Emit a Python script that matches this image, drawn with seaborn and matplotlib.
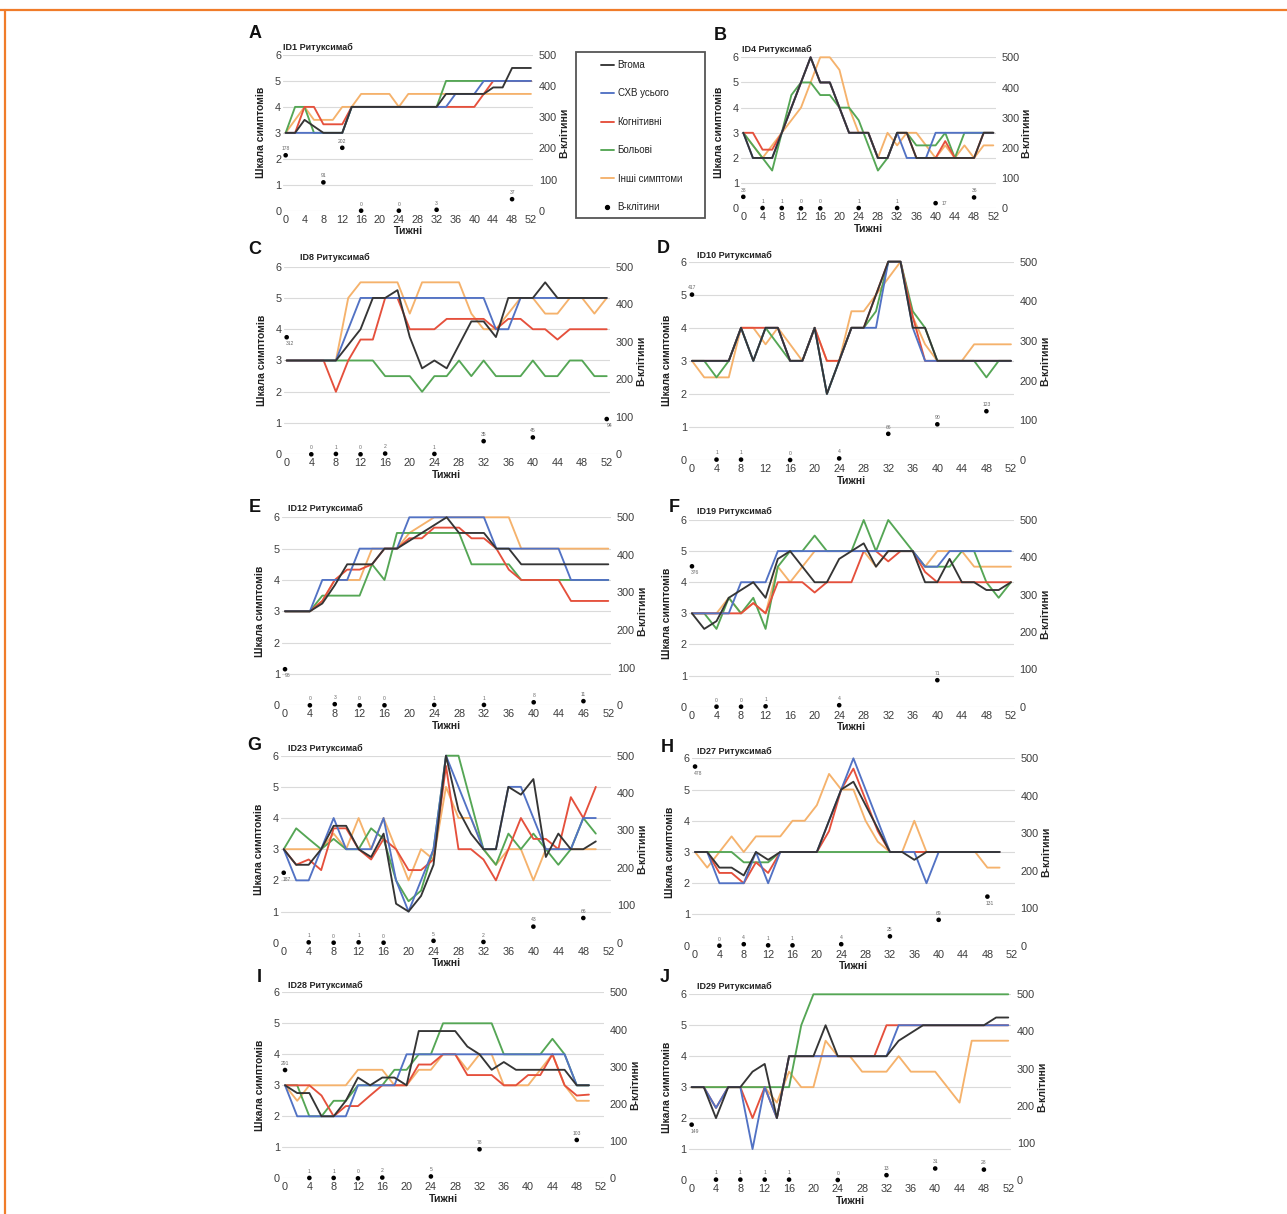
import matplotlib
matplotlib.use("Agg")
import matplotlib.pyplot as plt
import seaborn as sns
from matplotlib.lines import Line2D
from matplotlib.patches import Rectangle

sns.set_theme(style="white")
plt.rcParams['font.family'] = ['Liberation Sans', 'DejaVu Sans']

# ---------------------------------------------------------------- data
SERIES = ["Втома", "СХВ усього", "Когнітивні", "Больові", "Інші симптоми"]
BCELL_LABEL = "В-клітини"
TREATMENT = "Ритуксимаб"

weeks_to_52 = list(range(0, 53, 2))
weeks_to_50 = list(range(0, 51, 2))
default_ticks = [str(w) for w in range(0, 53, 4)]
id12_ticks = ['0', '4', '8', '12', '16', '20', '24', '28', '32', '36', '40', '44', '46', '52']

# ID1
id1_fatigue = [3, 3, 3.5, 3.25, 3, 3, 3, 4, 4, 4, 4, 4, 4, 4, 4, 4, 4, 4.5, 4.5, 4.5, 4.5, 4.5, 4.75, 4.75, 5.5, 5.5, 5.5]
id1_total = [3, 3, 3, 3, 3, 3, 3, 4, 4, 4, 4, 4, 4, 4, 4, 4, 4, 4, 4.5, 4.5, 4.5, 5, 5, 5, 5, 5, 5]
id1_cognitive = [3, 3, 4, 4, 3.33, 3.33, 3.33, 4, 4, 4, 4, 4, 4, 4, 4, 4, 4, 4, 4, 4, 4, 4.5, 5, 5, 5, 5, 5]
id1_pain = [3, 4, 4, 3, 3, 3, 3, 4, 4, 4, 4, 4, 4, 4, 4, 4, 4, 5, 5, 5, 5, 5, 5, 5, 5, 5, 5]
id1_other = [3, 3.5, 4, 3.5, 3.5, 3.5, 4, 4, 4.5, 4.5, 4.5, 4.5, 4, 4.5, 4.5, 4.5, 4.5, 4.5, 4.5, 4.5, 4.5, 4.5, 4.5, 4.5, 4.5, 4.5, 4.5]
id1_bcell_weeks = [0, 8, 12, 16, 24, 32, 48]
id1_bcells = [178, 91, 202, 0, 0, 3, 37]

# ID4
id4_fatigue = [3, 2, 2, 2, 3, 4, 5, 6, 5, 5, 4, 3, 3, 3, 2, 2, 3, 3, 2, 2, 2, 2, 2, 2, 2, 3, 3]
id4_total = [3, 2, 2, 2, 3, 4, 5, 6, 5, 5, 4, 3, 3, 3, 2, 2, 3, 2, 2, 2, 3, 3, 3, 3, 3, 3, 3]
id4_cognitive = [3, 3, 2.33, 2.33, 3, 4, 5, 6, 5, 5, 4, 3, 3, 3, 2, 2, 3, 3, 2, 2, 2, 2.67, 2, 2, 2, 3, 3]
id4_pain = [3, 2.5, 2, 1.5, 3, 4.5, 5, 5, 4.5, 4.5, 4, 4, 3.5, 2.5, 1.5, 2, 3, 3, 2.5, 2.5, 2.5, 3, 2, 3, 3, 3, 3]
id4_other = [3, 2.5, 2, 2.5, 3, 3.5, 4, 5, 6, 6, 5.5, 4, 3, 3, 2, 3, 2.5, 3, 3, 2.5, 2, 2.5, 2, 2.5, 2, 2.5, 2.5]
id4_bcell_weeks = [0, 4, 8, 12, 16, 24, 32, 40, 48]
id4_bcells = [38, 1, 1, 0, 0, 1, 1, 17, 36]

# ID8
id8_fatigue = [3, 3, 3, 3, 3, 3.5, 4, 5, 5, 5.25, 3.75, 2.75, 3, 2.75, 3.5, 4.25, 4.25, 3.75, 5, 5, 5, 5.5, 5, 5, 5, 5, 5]
id8_total = [3, 3, 3, 3, 3, 4, 5, 5, 5, 5, 5, 5, 5, 5, 5, 5, 5, 4, 4, 5, 5, 5, 5, 5, 5, 5, 5]
id8_cognitive = [3, 3, 3, 3, 2, 3, 3.67, 3.67, 5, 5, 4, 4, 4, 4.33, 4.33, 4.33, 4.33, 4, 4.33, 4.33, 4, 4, 3.67, 4, 4, 4, 4]
id8_pain = [3, 3, 3, 3, 3, 3, 3, 3, 2.5, 2.5, 2.5, 2, 2.5, 2.5, 3, 2.5, 3, 2.5, 2.5, 2.5, 3, 2.5, 2.5, 3, 3, 2.5, 2.5]
id8_other = [3, 3, 3, 3, 3, 5, 5.5, 5.5, 5.5, 5.5, 4.5, 5.5, 5.5, 5.5, 5.5, 4.5, 4, 4, 4.5, 5, 5, 4.5, 4.5, 5, 5, 4.5, 5]
id8_bcell_weeks = [0, 4, 8, 12, 16, 24, 32, 40, 52]
id8_bcells = [312, 0, 1, 0, 2, 1, 35, 45, 94]

# ID10
id10_fatigue = [3, 3, 3, 3, 4, 3, 4, 4, 3, 3, 4, 2, 3, 4, 4, 5, 6, 6, 4, 4, 3, 3, 3, 3, 3, 3, 3]
id10_total = [3, 3, 3, 3, 4, 3, 4, 4, 3, 3, 4, 2, 3, 4, 4, 4, 6, 6, 4, 3, 3, 3, 3, 3, 3, 3, 3]
id10_cognitive = [3, 3, 3, 3, 4, 4, 4, 4, 3, 3, 4, 3, 3, 4, 4, 5, 6, 6, 4.33, 3, 3, 3, 3, 3, 3, 3, 3]
id10_pain = [3, 3, 2.5, 3, 4, 3, 4, 3.5, 3, 3, 4, 2, 3, 4, 4, 4.5, 6, 6, 4.5, 4, 3, 3, 3, 3, 2.5, 3, 3]
id10_other = [3, 2.5, 2.5, 2.5, 4, 4, 3.5, 4, 3.5, 3, 4, 3, 3, 4.5, 4.5, 5, 5.5, 6, 4.33, 3.5, 3, 3, 3, 3.5, 3.5, 3.5, 3.5]
id10_bcell_weeks = [0, 4, 8, 16, 24, 32, 40, 48]
id10_bcells = [417, 1, 1, 0, 4, 66, 90, 123]

# ID12
id12_fatigue = [3, 3, 3, 3.25, 3.83, 4.5, 4.5, 4.5, 5, 5, 5.25, 5.5, 5.75, 6, 5.5, 5.5, 5.5, 5, 5, 4.5, 4.5, 4.5, 4.5, 4.5, 4.5, 4.5, 4.5]
id12_total = [3, 3, 3, 4, 4, 4, 5, 5, 5, 5, 6, 6, 6, 6, 6, 6, 6, 5, 5, 5, 5, 5, 5, 4, 4, 4, 4]
id12_cognitive = [3, 3, 3, 3.33, 4, 4.33, 4.33, 4.5, 5, 5, 5.33, 5.33, 5.67, 5.67, 5.67, 5.33, 5.33, 5, 4.33, 4, 4, 4, 4, 3.33, 3.33, 3.33, 3.33]
id12_pain = [3, 3, 3, 3.5, 3.5, 3.5, 3.5, 4.5, 4, 5.5, 5.5, 5.5, 5.5, 5.5, 5.5, 4.5, 4.5, 4.5, 4.5, 4, 4, 4, 4, 4, 4, 4, 4]
id12_other = [3, 3, 3, 3.33, 4, 4, 4, 5, 5, 5, 5.5, 5.75, 6, 6, 6, 6, 6, 6, 6, 5, 5, 5, 5, 5, 5, 5, 5]
id12_bcell_weeks = [0, 4, 8, 12, 16, 24, 32, 40, 48]
id12_bcells = [96, 0, 3, 0, 0, 1, 1, 8, 11]

# ID19
id19_fatigue = [3, 2.5, 2.75, 3.5, 3.75, 4, 3.5, 4.75, 5, 4.5, 4, 4, 4.75, 5, 5.25, 4.5, 5, 5, 5, 4, 4, 4.75, 4, 4, 3.75, 3.75, 4]
id19_total = [3, 3, 3, 3, 4, 4, 4, 5, 5, 5, 5, 5, 5, 5, 5, 5, 5, 5, 5, 4.5, 4.5, 5, 5, 5, 5, 5, 5]
id19_cognitive = [3, 3, 3, 3, 3, 3.33, 3, 4, 4, 4, 3.67, 4, 4, 4, 5, 5, 4.67, 5, 5, 4.33, 4, 4, 4, 4, 4, 4, 4]
id19_pain = [3, 3, 2.5, 3.5, 3, 3.5, 2.5, 4.5, 5, 5, 5.5, 5, 5, 5, 6, 5, 6, 5.5, 5, 4.5, 4.5, 4.5, 5, 5, 4, 3.5, 4]
id19_other = [3, 3, 3, 3.5, 3, 3.33, 3, 4.5, 4, 4.5, 5, 5, 5, 5, 5, 4.5, 5, 5, 5, 4.5, 5, 5, 5, 4.5, 4.5, 4.5, 4.5]
id19_bcell_weeks = [0, 4, 8, 12, 24, 40]
id19_bcells = [376, 0, 0, 1, 4, 71]

# ID23
id23_fatigue = [3, 2.5, 2.5, 3, 3.75, 3.75, 3, 2.75, 3.5, 1.25, 1, 1.5, 2.5, 6, 4.25, 3.5, 3, 3, 5, 4.75, 5.25, 2.75, 3.5, 3, 3, 3.25]
id23_total = [3, 2, 2, 3, 4, 3, 3, 3, 4, 2, 1, 2, 3, 6, 5, 4, 3, 3, 5, 5, 4, 3, 3, 3, 4, 4]
id23_cognitive = [3, 2.5, 2.67, 2.33, 3.67, 3.67, 3, 2.67, 3.33, 3, 2.33, 2.33, 2.67, 5.67, 3, 3, 2.67, 2, 3, 4, 3.33, 3.33, 3, 4.67, 4, 5]
id23_pain = [3, 3.67, 3.33, 3, 3.33, 3, 3, 3.67, 3.33, 2, 1.33, 1.67, 3, 6, 6, 4.5, 3, 2.5, 3.5, 3, 3.5, 3, 2.5, 3, 4, 3.5]
id23_other = [3, 3, 3, 3, 3.5, 3, 4, 3, 4, 3, 2, 3, 2.67, 5, 4, 4, 3, 2.5, 3, 3, 2, 3, 3, 3, 3, 3]
id23_bcell_weeks = [0, 4, 8, 12, 16, 24, 32, 40, 48]
id23_bcells = [187, 1, 0, 1, 0, 5, 2, 43, 66]

# ID27
id27_fatigue = [3, 3, 2.5, 2.5, 2.25, 3, 2.75, 3, 3, 3, 3, 4, 5, 5.25, 4.5, 3.75, 3, 3, 2.75, 3, 3, 3, 3, 3, 3, 3]
id27_total = [3, 3, 2, 2, 2, 3, 2, 3, 3, 3, 3, 4, 5, 6, 5, 4, 3, 3, 3, 2, 3, 3, 3, 3, 3, 3]
id27_cognitive = [3, 3, 2.33, 2.33, 2, 2.67, 2.33, 3, 3, 3, 3, 3.67, 5, 5.67, 4.67, 3.67, 3, 3, 3, 3, 3, 3, 3, 3, 3, 3]
id27_pain = [3, 3, 3, 3, 2.67, 2.67, 2.67, 3, 3, 3, 3, 3, 3, 3, 3, 3, 3, 3, 3, 3, 3, 3, 3, 3, 3, 3]
id27_other = [3, 2.5, 3, 3.5, 3, 3.5, 3.5, 3.5, 4, 4, 4.5, 5.5, 5, 5, 4, 3.33, 3, 3, 4, 3, 3, 3, 3, 3, 2.5, 2.5]
id27_bcell_weeks = [0, 4, 8, 12, 16, 24, 32, 40, 48]
id27_bcells = [478, 0, 4, 1, 1, 4, 25, 69, 131]

# ID28
id28_fatigue = [3, 2.75, 2.75, 2, 2, 2.5, 3.25, 3, 3.25, 3.25, 3, 4.75, 4.75, 4.75, 4.75, 4.25, 4, 3.5, 3.75, 3.5, 3.5, 3.5, 3.5, 3.5, 3, 3]
id28_total = [3, 2, 2, 2, 2, 2, 3, 3, 3, 3, 4, 4, 4, 4, 4, 4, 4, 4, 4, 4, 4, 4, 4, 4, 3, 3]
id28_cognitive = [3, 3, 3, 2.67, 2, 2.33, 2.33, 2.67, 3, 3, 3, 3.67, 3.67, 4, 4, 3.33, 3.33, 3.33, 3, 3, 3.33, 3.33, 4, 3, 2.67, 2.7]
id28_pain = [3, 3, 2, 2, 2.5, 2.5, 3, 3, 3, 3.5, 3.5, 4, 4, 5, 5, 5, 5, 5, 4, 4, 4, 4, 4.5, 4, 3, 3]
id28_other = [3, 2.5, 3, 3, 3, 3, 3.5, 3.5, 3.5, 3, 3, 3.5, 3.5, 4, 4, 3.5, 4, 4, 3, 3, 3, 3.5, 4, 3, 2.5, 2.5]
id28_bcell_weeks = [0, 4, 8, 12, 16, 24, 32, 48]
id28_bcells = [291, 1, 1, 0, 2, 5, 78, 103]

# ID29
id29_fatigue = [3, 3, 2, 3, 3, 3.5, 3.75, 2, 4, 4, 4, 5, 4, 4, 4, 4, 4, 4.5, 4.75, 5, 5, 5, 5, 5, 5, 5.25, 5.25]
id29_total = [3, 3, 2.33, 3, 3, 1, 3, 2, 4, 4, 4, 4, 4, 4, 4, 4, 4, 5, 5, 5, 5, 5, 5, 5, 5, 5, 5]
id29_cognitive = [3, 3, 2.33, 3, 3, 2, 3, 2, 4, 4, 4, 4, 4, 4, 4, 4, 5, 5, 5, 5, 5, 5, 5, 5, 5, 5, 5]
id29_pain = [3, 3, 3, 3, 3, 3, 3, 3, 3, 5, 6, 6, 6, 6, 6, 6, 6, 6, 6, 6, 6, 6, 6, 6, 6, 6, 6]
id29_other = [3, 3, 3, 3, 3, 3, 3, 2.5, 3.5, 3, 3, 4.5, 4, 4, 3.5, 3.5, 3.5, 4, 3.5, 3.5, 3.5, 3, 2.5, 4.5, 4.5, 4.5, 4.5]
id29_bcell_weeks = [0, 4, 8, 12, 16, 24, 32, 40, 48]
id29_bcells = [149, 1, 1, 1, 1, 0, 13, 31, 28]

# ---------------------------------------------------------------- style
COLORS = {
    "Втома": "#353535",
    "СХВ усього": "#5272c4",
    "Когнітивні": "#e5503c",
    "Больові": "#55a655",
    "Інші симптоми": "#f5b26c",
}
DRAW_ORDER = ["Інші симптоми", "Больові", "Когнітивні", "СХВ усього", "Втома"]

W, H = 1287, 1214
fig = plt.figure(figsize=(W / 100, H / 100), dpi=100)
fig.patch.set_facecolor("white")


def fx(px):
    return px / W


def fy(py):
    return 1 - py / H


panels = [
    dict(letter="A", pid="ID1", rect=(283.3, 55.0, 250.0, 155.7), letter_xy=(255, 34), title_xy=(283, 47),
         weeks=weeks_to_52, ticks=default_ticks,
         values=[id1_fatigue, id1_total, id1_cognitive, id1_pain, id1_other],
         bw=id1_bcell_weeks, bv=id1_bcells, place={}),
    dict(letter="B", pid="ID4", rect=(740.9, 57.3, 254.8, 151.0), letter_xy=(720, 35), title_xy=(741.7, 49.3),
         weeks=weeks_to_52, ticks=default_ticks,
         values=[id4_fatigue, id4_total, id4_cognitive, id4_pain, id4_other],
         bw=id4_bcell_weeks, bv=id4_bcells, place={40: "right"}),
    dict(letter="C", pid="ID8", rect=(283.6, 266.7, 326.2, 187.6), letter_xy=(255, 250), title_xy=(300, 257),
         weeks=weeks_to_52, ticks=default_ticks,
         values=[id8_fatigue, id8_total, id8_cognitive, id8_pain, id8_other],
         bw=id8_bcell_weeks, bv=id8_bcells, place={0: "below", 52: "below"}),
    dict(letter="D", pid="ID10", rect=(688.9, 261.7, 325.1, 198.3), letter_xy=(663, 248), title_xy=(697, 255),
         weeks=weeks_to_52, ticks=default_ticks,
         values=[id10_fatigue, id10_total, id10_cognitive, id10_pain, id10_other],
         bw=id10_bcell_weeks, bv=id10_bcells, place={}),
    dict(letter="E", pid="ID12", rect=(281.9, 517.3, 329.5, 188.0), letter_xy=(255, 507), title_xy=(287.7, 508),
         weeks=weeks_to_52, ticks=id12_ticks,
         values=[id12_fatigue, id12_total, id12_cognitive, id12_pain, id12_other],
         bw=id12_bcell_weeks, bv=id12_bcells, place={0: "below"}),
    dict(letter="F", pid="ID19", rect=(688.9, 520.0, 325.1, 186.7), letter_xy=(674, 508), title_xy=(697, 511.7),
         weeks=weeks_to_52, ticks=default_ticks,
         values=[id19_fatigue, id19_total, id19_cognitive, id19_pain, id19_other],
         bw=id19_bcell_weeks, bv=id19_bcells, place={0: "below"}),
    dict(letter="G", pid="ID23", rect=(280.6, 755.7, 330.8, 187.0), letter_xy=(254, 746), title_xy=(287.7, 748),
         weeks=weeks_to_50, ticks=default_ticks,
         values=[id23_fatigue, id23_total, id23_cognitive, id23_pain, id23_other],
         bw=id23_bcell_weeks, bv=id23_bcells, place={0: "below"}),
    dict(letter="H", pid="ID27", rect=(692.0, 758.3, 322.8, 187.4), letter_xy=(667, 747), title_xy=(697, 751.7),
         weeks=weeks_to_50, ticks=default_ticks,
         values=[id27_fatigue, id27_total, id27_cognitive, id27_pain, id27_other],
         bw=id27_bcell_weeks, bv=id27_bcells, place={0: "below", 48: "below"}),
    dict(letter="I", pid="ID28", rect=(282.0, 992.3, 322.1, 186.0), letter_xy=(259, 977), title_xy=(287.7, 985),
         weeks=weeks_to_50, ticks=default_ticks,
         values=[id28_fatigue, id28_total, id28_cognitive, id28_pain, id28_other],
         bw=id28_bcell_weeks, bv=id28_bcells, place={}),
    dict(letter="J", pid="ID29", rect=(688.6, 994.3, 322.7, 185.7), letter_xy=(665, 977), title_xy=(697, 986.7),
         weeks=weeks_to_52, ticks=default_ticks,
         values=[id29_fatigue, id29_total, id29_cognitive, id29_pain, id29_other],
         bw=id29_bcell_weeks, bv=id29_bcells, place={0: "below"}),
]

TICK_COLOR = "#3c3c3c"

for p in panels:
    left, top, width, height = p["rect"]
    ax = fig.add_axes([fx(left), fy(top + height), width / W, height / H])
    series = dict(zip(SERIES, p["values"]))

    for name in DRAW_ORDER:
        sns.lineplot(x=p["weeks"], y=series[name], ax=ax, color=COLORS[name],
                     linewidth=1.35, legend=False, clip_on=False)

    ax.set_xlim(-0.5, 52.5)
    ax.set_ylim(0, 6)
    ax.set_xticks(range(0, 53, 4))
    ax.set_xticklabels(p["ticks"])
    ax.set_yticks(range(0, 7))
    ax.yaxis.grid(True, color="#dadada", linewidth=0.8)
    ax.xaxis.grid(False)
    ax.set_axisbelow(True)
    ax.tick_params(axis="both", length=0, labelsize=7.8, colors=TICK_COLOR)
    ax.tick_params(axis="x", pad=3)
    ax.tick_params(axis="y", pad=1.5)
    ax.set_xlabel("")
    ax.set_ylabel("")
    for s in ax.spines.values():
        s.set_visible(False)

    ax2 = ax.twinx()
    sns.scatterplot(x=p["bw"], y=p["bv"], ax=ax2, color="black", s=11,
                    edgecolor="none", legend=False, clip_on=False, zorder=5)
    ax2.set_ylim(0, 500)
    ax2.set_yticks(range(0, 501, 100))
    ax2.tick_params(axis="y", length=0, labelsize=7.8, colors=TICK_COLOR, pad=4)
    ax2.set_ylabel("")
    for s in ax2.spines.values():
        s.set_visible(False)

    for w, v in zip(p["bw"], p["bv"]):
        where = p["place"].get(w, "above")
        if where == "below":
            off, ha, va = (2, -3), "center", "top"
        elif where == "right":
            off, ha, va = (4, 0), "left", "center"
        else:
            off, ha, va = (0, 3), "center", "bottom"
        ax2.annotate(str(v), (w, v), xytext=off, textcoords="offset points",
                     ha=ha, va=va, fontsize=3.6, color="#666666", annotation_clip=False)

    # panel letter, title and axis titles
    lx, ly = p["letter_xy"]
    fig.text(fx(lx), fy(ly), p["letter"], fontsize=13, fontweight="bold",
             ha="center", va="center", color="#111111")
    tx, ty = p["title_xy"]
    fig.text(fx(tx), fy(ty), f"{p['pid']} {TREATMENT}", fontsize=6.5, fontweight="bold",
             ha="left", va="center", color="#222222")
    fig.text(fx(left - 22), fy(top + height / 2), "Шкала симптомів", rotation=90,
             fontsize=7.5, fontweight="bold", ha="center", va="center", color="#222222")
    fig.text(fx(left + width + 31), fy(top + height / 2), BCELL_LABEL, rotation=90,
             fontsize=7.5, fontweight="bold", ha="center", va="center", color="#222222")
    fig.text(fx(left + width / 2), fy(top + height + 20.5), "Тижні",
             fontsize=7.5, fontweight="bold", ha="center", va="center", color="#222222")

# legend in its own framed box
handles = [Line2D([], [], color=COLORS[n], linewidth=1.35) for n in SERIES]
handles.append(Line2D([], [], color="black", marker="o", linestyle="none", markersize=2.8))
fig.legend(handles, SERIES + [BCELL_LABEL], loc="upper left",
           bbox_to_anchor=(fx(601), fy(60)), frameon=False, fontsize=7,
           handlelength=1.3, handletextpad=0.4, labelspacing=1.9,
           borderpad=0, borderaxespad=0, labelcolor="#222222")
fig.add_artist(Rectangle((fx(576), fy(218)), 129 / W, 166 / H, transform=fig.transFigure,
                         fill=False, edgecolor="#555555", linewidth=1.3))

# orange page rules
fig.add_artist(Line2D([0, 1], [fy(10), fy(10)], transform=fig.transFigure,
                      color="#f07c2a", linewidth=1.6))
fig.add_artist(Line2D([fx(5), fx(5)], [fy(10), 0], transform=fig.transFigure,
                      color="#f07c2a", linewidth=1.6))

fig.savefig("out.png", dpi=100, facecolor="white")
